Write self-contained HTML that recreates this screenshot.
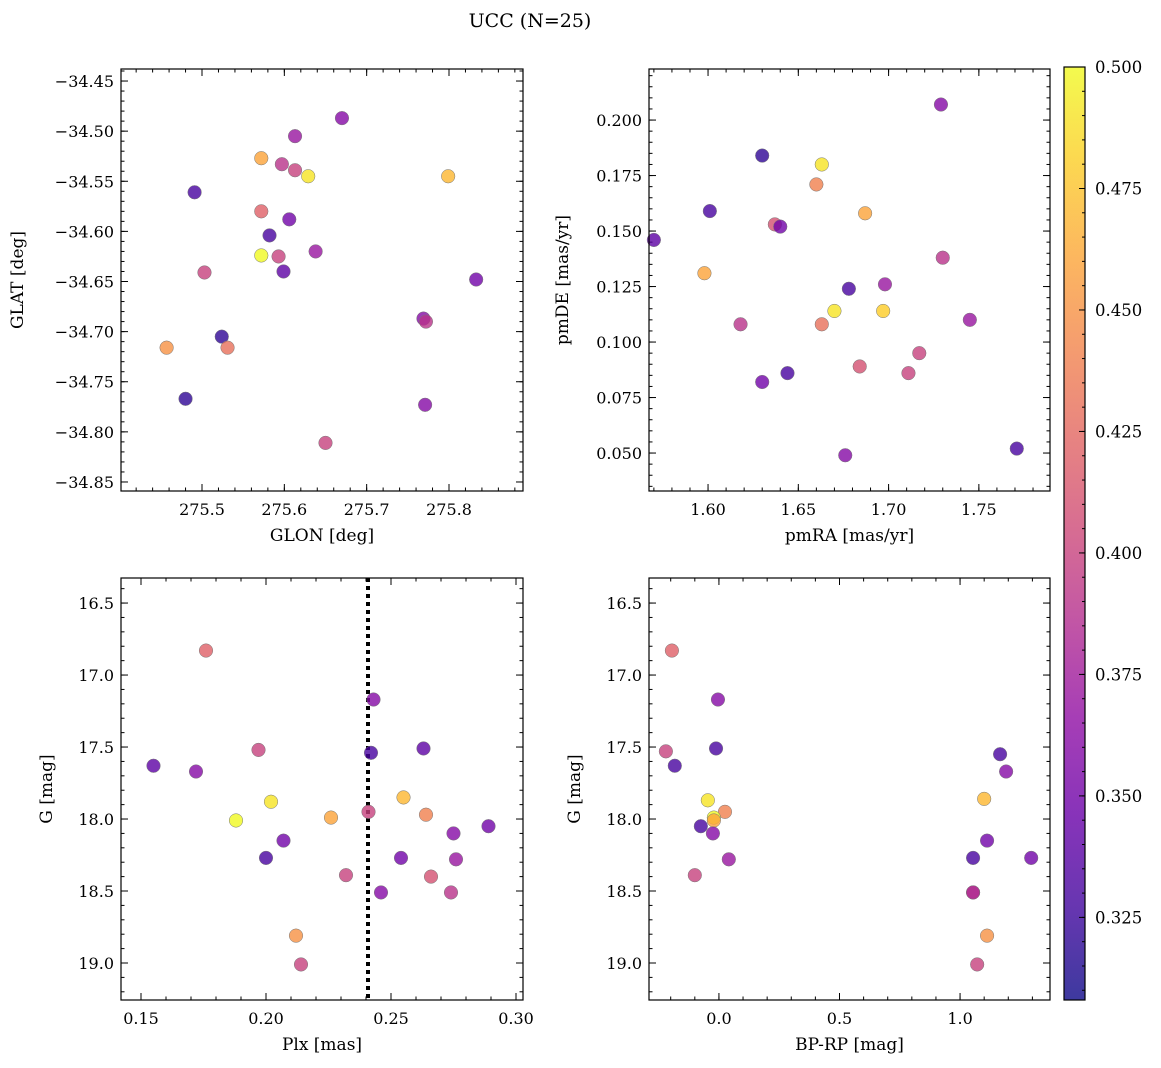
<!DOCTYPE html>
<html><head><meta charset="utf-8">
<style>
html,body{margin:0;padding:0;background:#fff;}
svg{display:block;font-family:"DejaVu Serif","Liberation Serif",serif;}
</style></head>
<body>
<svg id="fig" width="1161" height="1068" viewBox="0 0 1161 1068" xmlns="http://www.w3.org/2000/svg">
<rect width="1161" height="1068" fill="#fff"/>
<text x="530" y="27" font-size="19" text-anchor="middle">UCC (N=25)</text>
</svg>
<script>
// ---- data ----
const p1Glon=[275.613,275.67,275.572,275.597,275.613,275.629,275.799,275.491,275.572,275.606,275.582,275.593,275.572,275.638,275.599,275.503,275.833,275.769,275.772,275.524,275.457,275.531,275.480,275.771,275.650];
const p1Glat=[-34.505,-34.487,-34.527,-34.533,-34.539,-34.545,-34.545,-34.561,-34.580,-34.588,-34.604,-34.625,-34.624,-34.620,-34.640,-34.641,-34.648,-34.687,-34.690,-34.705,-34.716,-34.716,-34.767,-34.773,-34.811];
const p1C=[0.37,0.36,0.46,0.39,0.40,0.49,0.47,0.33,0.42,0.35,0.33,0.40,0.50,0.37,0.34,0.40,0.35,0.36,0.39,0.32,0.45,0.43,0.32,0.36,0.40];

const p2Pmra=[1.729,1.630,1.663,1.660,1.687,1.601,1.637,1.640,1.570,1.598,1.698,1.678,1.730,1.670,1.697,1.745,1.618,1.663,1.717,1.644,1.711,1.684,1.630,1.771,1.676];
const p2Pmde=[0.207,0.184,0.180,0.171,0.158,0.159,0.153,0.152,0.146,0.131,0.126,0.124,0.138,0.114,0.114,0.110,0.108,0.108,0.095,0.086,0.086,0.089,0.082,0.052,0.049];
const p2C=[0.36,0.32,0.49,0.44,0.46,0.33,0.41,0.35,0.34,0.46,0.37,0.33,0.39,0.49,0.48,0.37,0.39,0.43,0.40,0.33,0.40,0.41,0.35,0.33,0.36];

const p3Plx=[0.176,0.243,0.155,0.172,0.197,0.242,0.263,0.202,0.255,0.188,0.226,0.241,0.264,0.207,0.275,0.289,0.200,0.254,0.276,0.232,0.266,0.246,0.274,0.212,0.214];
const p3G=[16.83,17.17,17.63,17.67,17.52,17.54,17.51,17.88,17.85,18.01,17.99,17.95,17.97,18.15,18.10,18.05,18.27,18.27,18.28,18.39,18.40,18.51,18.51,18.81,19.01];
const p3C=[0.42,0.36,0.34,0.36,0.40,0.33,0.34,0.49,0.47,0.50,0.46,0.40,0.44,0.35,0.36,0.35,0.33,0.35,0.37,0.40,0.41,0.36,0.39,0.45,0.40];
const plxLine=0.2408;

const p4Bprp=[-0.195,-0.004,-0.22,-0.183,-0.012,1.166,1.191,-0.046,1.10,0.025,-0.021,-0.021,-0.075,-0.025,1.112,0.041,1.054,1.295,-0.10,1.054,1.054,1.112,1.071];
const p4G=[16.83,17.17,17.53,17.63,17.51,17.55,17.67,17.87,17.86,17.95,17.99,18.01,18.05,18.10,18.15,18.28,18.27,18.27,18.39,18.51,18.51,18.81,19.01];
const p4C=[0.42,0.36,0.40,0.33,0.33,0.33,0.36,0.49,0.47,0.44,0.50,0.46,0.33,0.36,0.35,0.37,0.33,0.35,0.40,0.36,0.39,0.45,0.40];

const p1XTicks=[275.5,275.6,275.7,275.8];
const p1YTicks=[-34.45,-34.50,-34.55,-34.60,-34.65,-34.70,-34.75,-34.80,-34.85];
const p2XTicks=[1.60,1.65,1.70,1.75];
const p2YTicks=[0.200,0.175,0.150,0.125,0.100,0.075,0.050];
const p3XTicks=[0.15,0.20,0.25,0.30];
const gTicks=[16.5,17.0,17.5,18.0,18.5,19.0];
const p4XTicks=[0.0,0.5,1.0];
const cbTicks=[0.325,0.350,0.375,0.400,0.425,0.450,0.475,0.500];
const cMin=0.308,cMax=0.5;

const NS='http://www.w3.org/2000/svg';
const svg=document.getElementById('fig');
function mk(tag,attrs,parent){const e=document.createElementNS(NS,tag);for(const k in attrs)e.setAttribute(k,attrs[k]);(parent||svg).appendChild(e);return e;}

const plasmaStops=[[0.0,13,8,135],[0.1,65,4,157],[0.2,106,0,168],[0.3,143,13,164],[0.4,177,42,144],[0.5,204,71,120],[0.6,225,100,98],[0.7,242,132,75],[0.8,252,166,54],[0.9,252,206,37],[1.0,240,249,33]];
function plasma(t){t=Math.max(0,Math.min(1,t));for(let i=1;i<plasmaStops.length;i++){const a=plasmaStops[i-1],b=plasmaStops[i];if(t<=b[0]){const f=(t-a[0])/(b[0]-a[0]);return `rgb(${Math.round(a[1]+f*(b[1]-a[1]))},${Math.round(a[2]+f*(b[2]-a[2]))},${Math.round(a[3]+f*(b[3]-a[3]))})`;}}return 'rgb(240,249,33)';}
function cmap(v){return plasma((v-cMin)/(cMax-cMin));}

function fmt(v,d){const s=Math.abs(v).toFixed(d);return (v<-1e-9?'\u2212':'')+s;}

function panel(o){
  const g=mk('g',{});
  
  
  const sx=v=>o.L+(v-o.x0)/(o.x1-o.x0)*(o.R-o.L);
  const sy=v=>o.T+(v-o.y0)/(o.y1-o.y0)*(o.B-o.T);
  const tg=mk('g',{stroke:'#000','stroke-width':1},g);
  const minorX=o.xstep/o.xm, minorY=o.ystep/o.ym;
  for(let v=Math.ceil(Math.min(o.x0,o.x1)/minorX)*minorX;v<=Math.max(o.x0,o.x1);v+=minorX){const x=sx(v);mk('line',{x1:x,x2:x,y1:o.B,y2:o.B-3.5},tg);mk('line',{x1:x,x2:x,y1:o.T,y2:o.T+3.5},tg);}
  for(let v=Math.ceil(Math.min(o.y0,o.y1)/minorY)*minorY;v<=Math.max(o.y0,o.y1);v+=minorY){const y=sy(v);mk('line',{x1:o.L,x2:o.L+3.5,y1:y,y2:y},tg);mk('line',{x1:o.R,x2:o.R-3.5,y1:y,y2:y},tg);}
  o.xt.forEach(v=>{const x=sx(v);mk('line',{x1:x,x2:x,y1:o.B,y2:o.B-7},tg);mk('line',{x1:x,x2:x,y1:o.T,y2:o.T+7},tg);
    const t=mk('text',{x:x,y:o.B+24,'font-size':16,'text-anchor':'middle'},g);t.textContent=fmt(v,o.xd);
    });
  o.yt.forEach(v=>{const y=sy(v);mk('line',{x1:o.L,x2:o.L+7,y1:y,y2:y},tg);mk('line',{x1:o.R,x2:o.R-7,y1:y,y2:y},tg);
    const t=mk('text',{x:o.L-7,y:y+6,'font-size':16,'text-anchor':'end'},g);t.textContent=fmt(v,o.yd);
    });
  if(o.vline!==undefined){const x=sx(o.vline);const l=mk('line',{x1:x,x2:x,y1:o.T,y2:o.B,stroke:'#000','stroke-width':4,'stroke-dasharray':'4,4'},g);
    }
  o.xs.forEach((v,i)=>{const c=mk('circle',{cx:sx(v),cy:sy(o.ys[i]),r:6.8,fill:cmap(o.cs[i]),'fill-opacity':0.8,stroke:'#777','stroke-width':0.5},g);
    });
  const fr=mk('rect',{x:o.L,y:o.T,width:o.R-o.L,height:o.B-o.T,fill:'none',stroke:'#000','stroke-width':1.2},g);
  
  const xl=mk('text',{x:(o.L+o.R)/2,y:o.B+50,'font-size':17,'text-anchor':'middle'},g);xl.textContent=o.xlab;
  
  const yx=o.ylx, yy=(o.T+o.B)/2;
  const yl=mk('text',{x:yx,y:yy,'font-size':17,'text-anchor':'middle',transform:`rotate(-90 ${yx} ${yy})`},g);yl.textContent=o.ylab;
  
}

panel({name:'glon-glat-panel',L:121,R:523,T:69,B:491,x0:275.4016,x1:275.8899,y0:-34.438,y1:-34.859,xt:p1XTicks,yt:p1YTicks,xd:1,yd:2,xstep:0.1,xm:5,ystep:0.05,ym:5,xs:p1Glon,ys:p1Glat,cs:p1C,xlab:'GLON [deg]',ylab:'GLAT [deg]',ylx:23});
panel({name:'pm-panel',L:649,R:1050,T:69,B:491,x0:1.5673,x1:1.7894,y0:0.2230,y1:0.0329,xt:p2XTicks,yt:p2YTicks,xd:2,yd:3,xstep:0.05,xm:5,ystep:0.025,ym:5,xs:p2Pmra,ys:p2Pmde,cs:p2C,xlab:'pmRA [mas/yr]',ylab:'pmDE [mas/yr]',ylx:568});
panel({name:'plx-g-panel',L:121,R:523,T:578,B:1000,x0:0.142,x1:0.3028,y0:16.326,y1:19.257,xt:p3XTicks,yt:gTicks,xd:2,yd:1,xstep:0.05,xm:5,ystep:0.5,ym:5,xs:p3Plx,ys:p3G,cs:p3C,xlab:'Plx [mas]',ylab:'G [mag]',ylx:52,vline:plxLine});
panel({name:'cmd-panel',L:649,R:1050,T:578,B:1000,x0:-0.290,x1:1.373,y0:16.326,y1:19.257,xt:p4XTicks,yt:gTicks,xd:1,yd:1,xstep:0.5,xm:5,ystep:0.5,ym:5,xs:p4Bprp,ys:p4G,cs:p4C,xlab:'BP-RP [mag]',ylab:'G [mag]',ylx:580});

// colorbar
(function(){
  const L=1064,R=1085,T=67,B=1000;
  const g=mk('g',{});
  
  
  const defs=mk('defs',{},g);
  const lg=mk('linearGradient',{id:'cbg',x1:0,y1:1,x2:0,y2:0},defs);
  for(let i=0;i<=20;i++){mk('stop',{offset:i/20,'stop-color':plasma(i/20),'stop-opacity':0.8},lg);}
  mk('rect',{x:L,y:T,width:R-L,height:B-T,fill:'url(#cbg)',stroke:'#000','stroke-width':1.2},g);
  const sy=v=>B-(v-cMin)/(cMax-cMin)*(B-T);
  for(let v=0.31;v<=0.5001;v+=0.005){const y=sy(v);mk('line',{x1:R,x2:R-3,y1:y,y2:y,stroke:'#000'},g);}
  cbTicks.forEach(v=>{const y=sy(v);mk('line',{x1:R,x2:R-6,y1:y,y2:y,stroke:'#000'},g);
    const t=mk('text',{x:R+10,y:y+6,'font-size':16.5},g);t.textContent=v.toFixed(3);
    });
})();
</script>
</body></html>
